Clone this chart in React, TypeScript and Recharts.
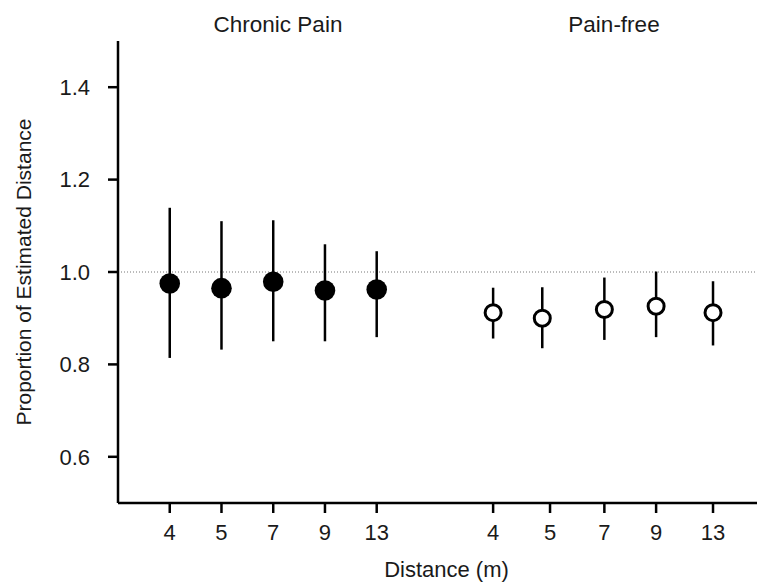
import React from "react";
import { ScatterChart, Scatter, XAxis, YAxis, ErrorBar, ReferenceLine } from "recharts";

// distance labels shared by both groups
const distances = ["4", "5", "7", "9", "13"];
// tick / marker positions on the x axis (group gap in the middle)
const chronicTickPos = [1, 2, 3, 4, 5];
const painFreeTickPos = [7.25, 8.35, 9.4, 10.4, 11.5];
const chronicMarkerPos = [1, 2, 3, 4, 5];
const painFreeMarkerPos = [7.25, 8.2, 9.4, 10.4, 11.5];

const chronicMean = [0.975, 0.965, 0.979, 0.96, 0.962];
const chronicLow = [0.814, 0.832, 0.85, 0.85, 0.859];
const chronicHigh = [1.139, 1.11, 1.112, 1.06, 1.045];

const painFreeMean = [0.912, 0.9, 0.919, 0.926, 0.912];
const painFreeLow = [0.856, 0.835, 0.853, 0.859, 0.841];
const painFreeHigh = [0.966, 0.967, 0.988, 1.001, 0.98];

const yTicks = [0.6, 0.8, 1.0, 1.2, 1.4];
const groupTitles = ["Chronic Pain", "Pain-free"];

const FONT = "'Liberation Sans', Arial, Helvetica, sans-serif";
const INK = "#1a1a1a";

const build = (pos: number[], mean: number[], low: number[], high: number[]) =>
  pos.map((x, i) => ({ x, y: mean[i], err: [mean[i] - low[i], high[i] - mean[i]] }));

const chronicData = build(chronicMarkerPos, chronicMean, chronicLow, chronicHigh);
const painFreeData = build(painFreeMarkerPos, painFreeMean, painFreeLow, painFreeHigh);

const allTicks = [...chronicTickPos, ...painFreeTickPos];
const allLabels = [...distances, ...distances];

const FilledDot = (props: any) => {
  if (props.cx == null || props.cy == null) return null;
  return <circle cx={props.cx} cy={props.cy} r={10.3} fill="#000" />;
};

const OpenDot = (props: any) => {
  if (props.cx == null || props.cy == null) return null;
  return <circle cx={props.cx} cy={props.cy} r={8} fill="#fff" stroke="#000" strokeWidth={3} />;
};

export default function App() {
  return (
    <div style={{ position: "absolute", left: 0, top: 0, width: 757, height: 588, fontFamily: FONT }}>
      <ScatterChart width={757} height={588} margin={{ top: 41, right: 0, bottom: 0, left: 0 }}>
        <XAxis
          type="number"
          dataKey="x"
          domain={[0, 12.35]}
          ticks={allTicks}
          interval={0}
          tickFormatter={(v: number) => allLabels[allTicks.indexOf(v)] ?? ""}
          height={85}
          axisLine={{ stroke: "#000", strokeWidth: 2.5 }}
          tickLine={{ stroke: "#000", strokeWidth: 2.5 }}
          tickSize={10}
          tickMargin={11}
          tick={{ fill: INK, fontSize: 22, fontFamily: FONT }}
          label={{
            value: "Distance (m)",
            position: "insideBottom",
            offset: 11,
            dx: 9,
            fill: INK,
            fontSize: 22,
            fontFamily: FONT,
          }}
        />
        <YAxis
          type="number"
          dataKey="y"
          domain={[0.5, 1.5]}
          ticks={yTicks}
          width={118}
          axisLine={{ stroke: "#000", strokeWidth: 2.5 }}
          tickLine={{ stroke: "#000", strokeWidth: 2.5 }}
          tickSize={10}
          tickMargin={18}
          tickFormatter={(v: number) => v.toFixed(1)}
          tick={{ fill: INK, fontSize: 22, fontFamily: FONT }}
          label={{
            value: "Proportion of Estimated Distance",
            angle: -90,
            position: "insideLeft",
            offset: 24,
            fill: INK,
            fontSize: 21,
            fontFamily: FONT,
            style: { textAnchor: "middle" },
          }}
        />
        <ReferenceLine y={1} stroke="#777" strokeWidth={1} strokeDasharray="1 2" />
        <Scatter data={chronicData} shape={<FilledDot />} isAnimationActive={false}>
          <ErrorBar dataKey="err" direction="y" width={0} stroke="#000" strokeWidth={2.5} isAnimationActive={false} />
        </Scatter>
        <Scatter data={painFreeData} shape={<OpenDot />} isAnimationActive={false}>
          <ErrorBar dataKey="err" direction="y" width={0} stroke="#000" strokeWidth={2.5} isAnimationActive={false} />
        </Scatter>
      </ScatterChart>
      <svg width={757} height={60} style={{ position: "absolute", left: 0, top: 0 }}>
        <text x={278} y={32} textAnchor="middle" fontSize={22.5} fill={INK} fontFamily={FONT}>
          {groupTitles[0]}
        </text>
        <text x={614} y={32} textAnchor="middle" fontSize={22.5} fill={INK} fontFamily={FONT}>
          {groupTitles[1]}
        </text>
      </svg>
    </div>
  );
}
